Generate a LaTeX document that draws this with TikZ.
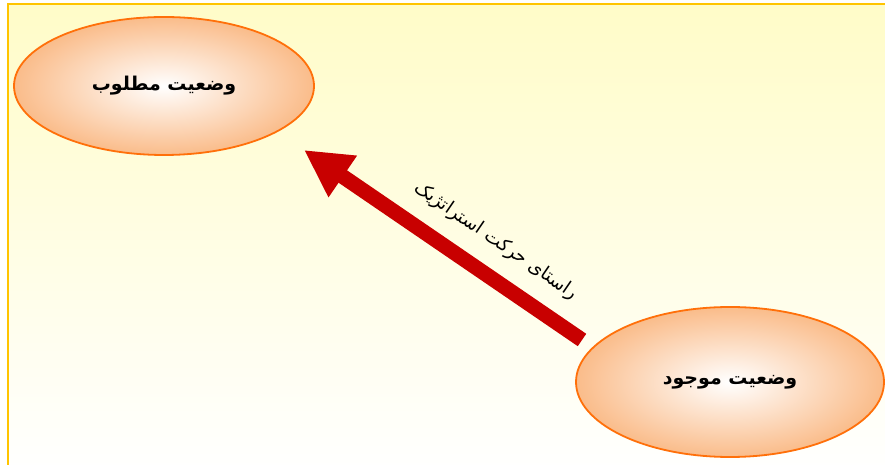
\documentclass[tikz,border=0pt]{standalone}
\usepackage{fontspec}
\newfontfamily\arabicfont[Script=Arabic]{DejaVu Sans}
\TeXXeTstate=1
\usetikzlibrary{shapes.geometric,arrows.meta}
\definecolor{framecol}{RGB}{255,196,0}
\definecolor{paper}{RGB}{255,252,200}
\definecolor{rim}{RGB}{255,112,10}
\definecolor{peach}{RGB}{250,188,138}
\definecolor{arrowred}{RGB}{200,0,0}

\begin{document}
\begin{tikzpicture}[x=1pt,y=1pt]
  \tikzset{
  state/.style={ellipse,draw=rim,line width=1.8pt,inner color=white,outer color=peach,inner sep=0pt,font=\arabicfont\bfseries\fontsize{19}{23}\selectfont},
  way/.style={draw=arrowred,line width=15pt,-{Triangle[length=47pt,width=47pt]}},
  }
  \useasboundingbox (0,0) rectangle (885,465);
  % the paper
  \shade[top color=paper,bottom color=white] (8,-10) rectangle (895,461);
  \draw[framecol,line width=2.5pt] (8,-10) rectangle (895,461);

  % the two states
  \node[state,minimum width=300pt,minimum height=138pt] (goal) at (164,379) {\beginR وضعیت مطلوب\endR};
  \node[state,minimum width=308pt,minimum height=150pt] (now) at (730,83) {\beginR وضعیت موجود\endR};

  % the arrow between them
  \coordinate (tail) at (582,125);
  \coordinate (tip) at (304,315);
  \draw[way] (tail) -- (tip) node [pos=0.376, sloped, above=13pt, text=black, font=\arabicfont\fontsize{18.4}{22}\selectfont] {\beginR راستای حرکت استراتژیک\endR};
\end{tikzpicture}
\end{document}
